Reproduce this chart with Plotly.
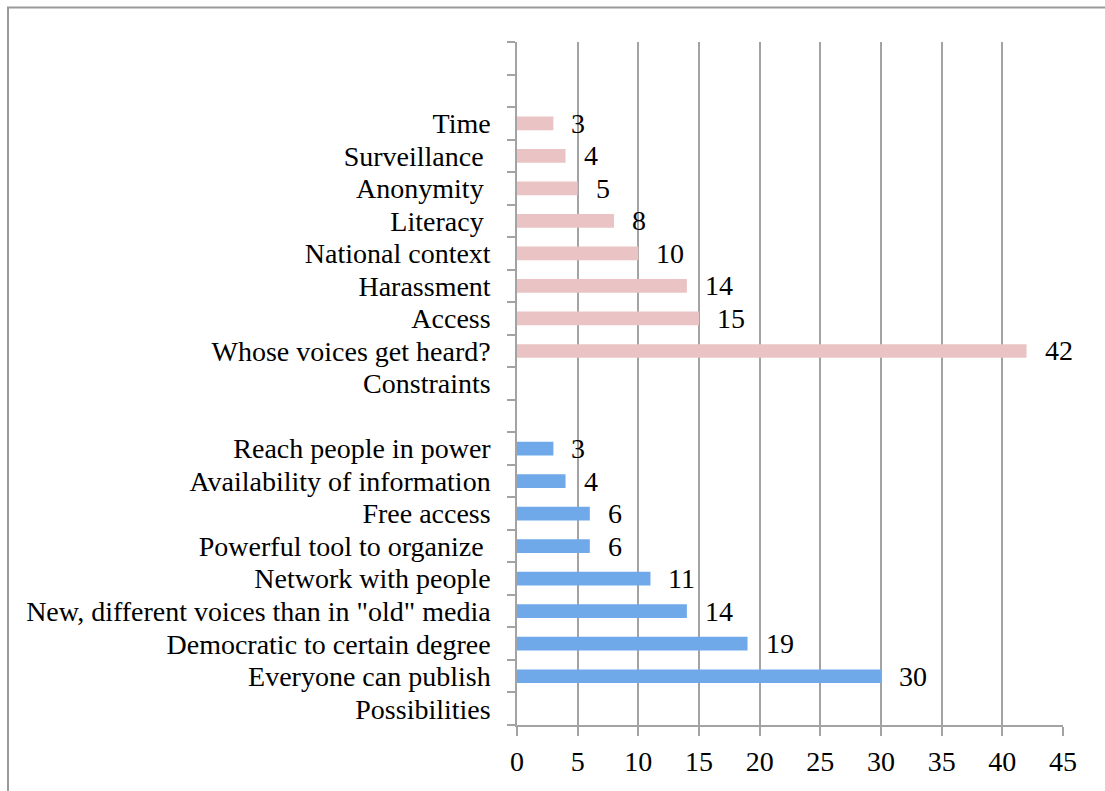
import plotly.graph_objects as go

# ---- data ----
possibility_labels = ["Everyone can publish", "Democratic to certain degree",
                      'New, different voices than in "old" media', "Network with people",
                      "Powerful tool to organize\u00a0", "Free access",
                      "Availability of information", "Reach people in power"]
possibility_values = [30, 19, 14, 11, 6, 6, 4, 3]

constraint_labels = ["Whose voices get heard?", "Access", "Harassment", "National context",
                     "Literacy\u00a0", "Anonymity\u00a0", "Surveillance\u00a0", "Time"]
constraint_values = [42, 15, 14, 10, 8, 5, 4, 3]

group_possibilities = "Possibilities"
group_constraints = "Constraints"
blank_slots = ["\u200b", "\u200b\u200b", "\u200b\u200b\u200b"]

x_ticks = [0, 5, 10, 15, 20, 25, 30, 35, 40, 45]

# category order, bottom to top
category_order = ([group_possibilities] + possibility_labels + [blank_slots[0]] +
                  [group_constraints] + constraint_labels + blank_slots[1:])

FONT = "Liberation Serif"
FS = 28
BLUE = "#6FA9EA"
PINK = "#EAC4C4"
GRID = "#A3A3A3"

W, H = 1105, 791
ML, MR, MT, MB = 517, 42, 42, 66

fig = go.Figure()
fig.add_trace(go.Bar(y=possibility_labels, x=possibility_values, orientation="h",
                     marker=dict(color=BLUE, line=dict(width=0)), width=0.42,
                     hoverinfo="x+y", showlegend=False))
fig.add_trace(go.Bar(y=constraint_labels, x=constraint_values, orientation="h",
                     marker=dict(color=PINK, line=dict(width=0)), width=0.42,
                     hoverinfo="x+y", showlegend=False))

annotations = []
for lab, v in list(zip(possibility_labels, possibility_values)) + list(zip(constraint_labels, constraint_values)):
    annotations.append(dict(x=v, y=lab, xref="x", yref="y", text=str(v), showarrow=False,
                            xanchor="left", yanchor="middle", xshift=16,
                            font=dict(family=FONT, size=FS, color="#000")))

pw = W - ML - MR
ph = H - MT - MB
frame = dict(type="rect", xref="paper", yref="paper",
             x0=(8 - ML) / pw, x1=(W + 20 - ML) / pw,
             y0=-(H + 20 - (H - MB)) / ph, y1=1 + (MT - 7.5) / ph,
             line=dict(color="#9A9A9A", width=2), layer="above")

fig.update_layout(
    width=W, height=H,
    margin=dict(l=ML, r=MR, t=MT, b=MB, pad=0),
    paper_bgcolor="white", plot_bgcolor="white",
    barmode="overlay",
    font=dict(family=FONT, size=FS, color="#000"),
    annotations=annotations,
    shapes=[frame],
    xaxis=dict(range=[0, 45], tickvals=x_ticks, showgrid=True, gridcolor=GRID, gridwidth=1.5,
               zeroline=False, showline=True, linecolor=GRID, linewidth=1.5,
               ticks="outside", ticklen=9, tickcolor=GRID, tickwidth=1.5,
               ticklabelstandoff=2, tickfont=dict(family=FONT, size=FS, color="#000"),
               fixedrange=True),
    yaxis=dict(type="category", categoryorder="array", categoryarray=category_order,
               range=[-0.5, len(category_order) - 0.5],
               tickmode="linear", tick0=0, dtick=1,
               tickson="boundaries", ticks="outside", ticklen=8, tickcolor=GRID, tickwidth=1.5,
               showline=True, linecolor=GRID, linewidth=1.5, showgrid=False,
               ticklabelstandoff=19, tickfont=dict(family=FONT, size=FS, color="#000"),
               fixedrange=True),
)

fig.write_html("out.html")
